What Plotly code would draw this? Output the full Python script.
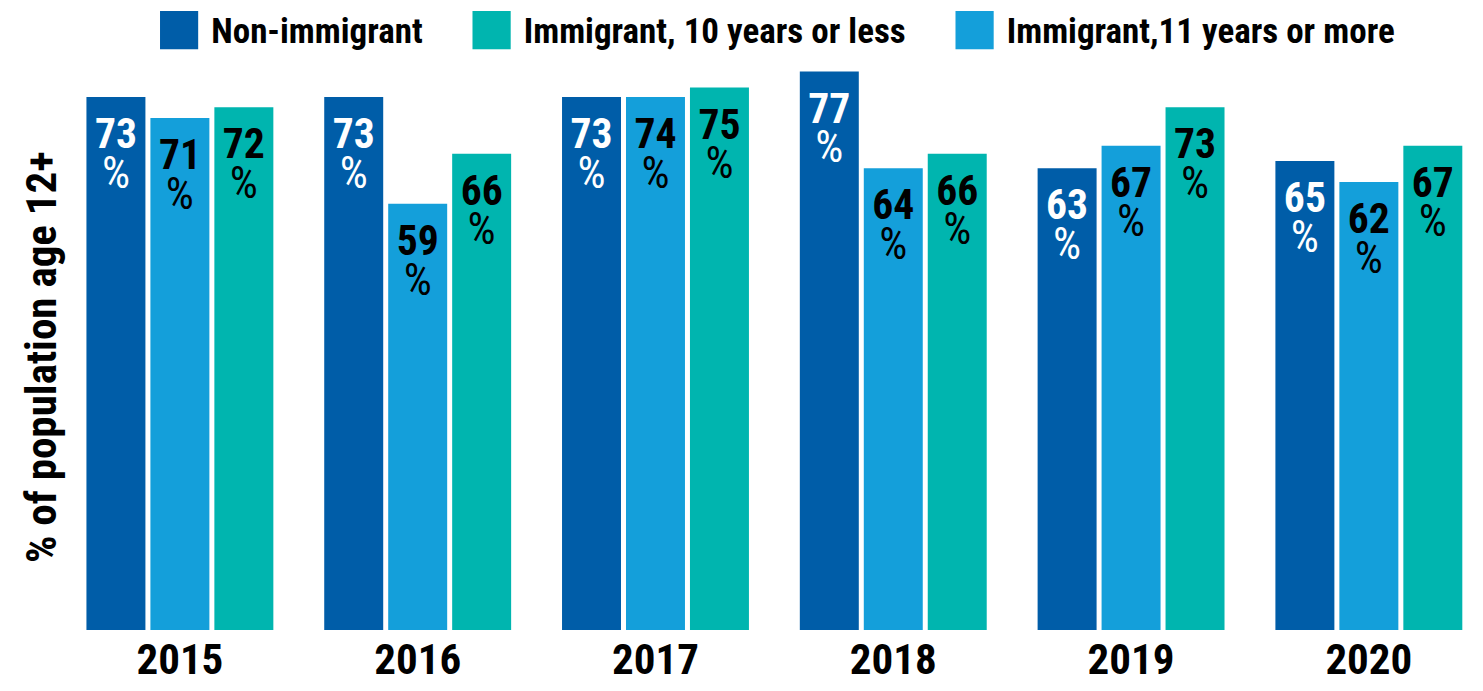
import plotly.graph_objects as go

years = ["2015", "2016", "2017", "2018", "2019", "2020"]

# bar heights, labels as printed
non_immigrant = [73.4, 73.4, 73.4, 76.9, 63.6, 64.6]
immigrant_11_plus = [70.5, 58.7, 73.4, 63.6, 66.7, 61.7]
immigrant_10_less = [72.0, 65.6, 74.7, 65.6, 72.0, 66.7]

non_immigrant_labels = [73, 73, 73, 77, 63, 65]
immigrant_11_plus_labels = [71, 59, 74, 64, 67, 62]
immigrant_10_less_labels = [72, 66, 75, 66, 73, 67]

series_names = ["Non-immigrant", "Immigrant, 10 years or less", "Immigrant,11 years or more"]
y_title = "% of population age 12+"
colors = {"non": "#005DA8", "ten": "#00B5AF", "eleven": "#149FDA"}

FONT = "Roboto Condensed, Liberation Sans Narrow, DejaVu Sans Condensed, sans-serif"
LBL = 45


def label_text(vals):
    pad = '<span style="font-size:56px">\u200a</span>'
    return [
        f'{pad}<span style="font-size:{LBL}px">{v}</span>{pad}<br>'
        f'<span style="font-size:48px;font-weight:normal">%</span>'
        for v in vals
    ]


fig = go.Figure()

bars = [
    (non_immigrant, non_immigrant_labels, colors["non"], "white"),
    (immigrant_11_plus, immigrant_11_plus_labels, colors["eleven"], "black"),
    (immigrant_10_less, immigrant_10_less_labels, colors["ten"], "black"),
]
for vals, labs, col, tcol in bars:
    fig.add_trace(go.Bar(
        x=years, y=vals, marker=dict(color=col, line=dict(width=0)),
        text=label_text(labs), textposition="inside", insidetextanchor="end",
        textangle=0, insidetextfont=dict(family=FONT, size=33, color=tcol, weight="bold"),
        showlegend=False, hoverinfo="skip",
    ))

legend_colors = [colors["non"], colors["ten"], colors["eleven"]]
for name, col in zip(series_names, legend_colors):
    fig.add_trace(go.Scatter(
        x=[None], y=[None], mode="lines",
        line=dict(color="rgba(0,0,0,0)", width=0),
        name=(f'<span style="color:{col};font-family:DejaVu Sans;font-size:50px">■</span>'
              f'<span style="font-size:38px"> </span>{name}'),
        showlegend=True, hoverinfo="skip",
    ))

fig.add_annotation(
    text=y_title, xref="paper", yref="paper", x=-0.014, y=0.479,
    xanchor="center", yanchor="middle", textangle=-90, showarrow=False,
    font=dict(family=FONT, size=43, color="black", weight="bold"),
)

fig.update_layout(
    width=1483, height=691,
    margin=dict(l=61, r=0, t=60, b=61),
    paper_bgcolor="white", plot_bgcolor="white",
    barmode="group", bargap=0.193, bargroupgap=0.078,
    font=dict(family=FONT, color="black"),
    legend=dict(
        orientation="h", x=0.49, xanchor="center", y=1, yanchor="top",
        yref="container", font=dict(family=FONT, size=35, color="black", weight="bold"),
        itemwidth=30, traceorder="normal",
    ),
    xaxis=dict(
        type="category", range=[-0.5, 5.48], showgrid=False, showline=False,
        zeroline=False, ticks="",
        tickfont=dict(family=FONT, size=43, color="black", weight="bold"),
    ),
    yaxis=dict(
        range=[0, 78.5], showgrid=False, zeroline=False, showline=False,
        showticklabels=False, ticks="",
    ),
)

fig.write_html("out.html", config={"displayModeBar": False},
               post_script="document.body.style.margin='0';")
